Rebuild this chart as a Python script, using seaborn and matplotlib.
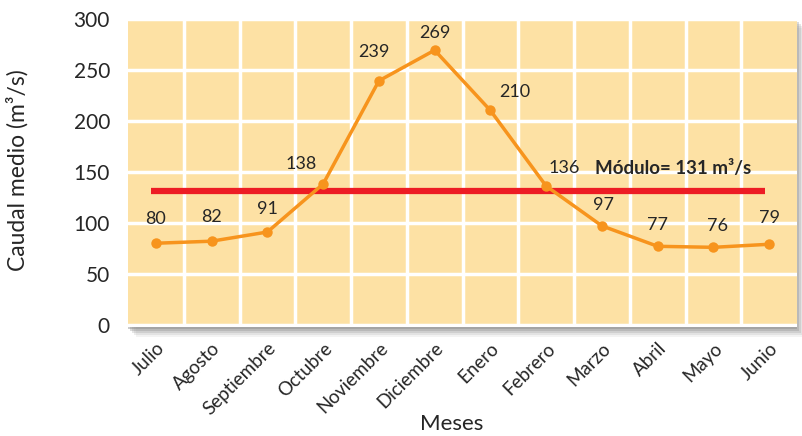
import numpy as np
import pandas as pd
import matplotlib.pyplot as plt
import matplotlib.patches as mpatches
import seaborn as sns

# Data
meses = ["Julio", "Agosto", "Septiembre", "Octubre", "Noviembre", "Diciembre",
         "Enero", "Febrero", "Marzo", "Abril", "Mayo", "Junio"]
caudal = [80, 82, 91, 138, 239, 269, 210, 136, 97, 77, 76, 79]
modulo = 131

df = pd.DataFrame({"Mes": meses, "Caudal": caudal})
df["pos"] = range(len(df))

# label offsets (pixels) relative to each point
offsets = [(0, 24), (0, 24), (0, 23), (-22, 20), (-5, 29), (0, 17),
           (24, 18), (18, 18), (2, 21), (0, 21), (4, 21), (0, 26)]

sns.set_style("white")
plt.rcParams["font.family"] = ["Lato", "DejaVu Sans"]

fig = plt.figure(figsize=(8.02, 4.36), dpi=100)
ax = fig.add_axes([0.1596, 0.25, 0.8342, 0.7087])

# shadow behind plot area
for i, a in enumerate([0.10, 0.15, 0.22, 0.32, 0.45]):
    d = (5 - i) * 2.0
    sh = mpatches.Rectangle((0.1596 - 2 / 802 + d / 802, 0.25 - d / 436), 0.8342, 0.7087,
                            transform=fig.transFigure, facecolor="#8c8c8c",
                            alpha=a, edgecolor="none", zorder=0)
    fig.patches.append(sh)

ax.set_facecolor("#FDE1A4")
ax.set_zorder(1)

ax.set_xlim(-0.5, len(meses) - 0.5)
ax.set_ylim(-2, 300.5)
ax.set_yticks(range(0, 301, 50))
ax.set_xticks(df["pos"])
ax.set_xticks(np.arange(0.5, len(meses) - 0.5, 1), minor=True)
ax.grid(which="major", axis="y", color="white", linewidth=2.5)
ax.grid(which="minor", axis="x", color="white", linewidth=2.5)
ax.set_axisbelow(True)

ax.hlines(modulo, -0.08, 10.93, color="#ED1C24", linewidth=4.5, zorder=2)
ax.text(9.28, 153, "Módulo= 131 m³/s", fontsize=13.5, fontweight="bold",
        ha="center", va="center", zorder=4)

sns.lineplot(data=df, x="pos", y="Caudal", ax=ax, color="#F7941D",
             linewidth=2.5, marker="o", markersize=7.5, markeredgewidth=0,
             zorder=3)

for (x, y), (dx, dy) in zip(zip(df["pos"], df["Caudal"]), offsets):
    ax.annotate(str(y), (x, y), xytext=(dx, dy), textcoords="offset pixels",
                ha="center", va="center", fontsize=13, zorder=4)

ax.set_xticklabels(meses, rotation=45, ha="right", rotation_mode="anchor",
                   fontsize=13.5)
ax.tick_params(axis="x", which="both", length=0, pad=9)
ax.tick_params(axis="y", length=0, labelsize=15, pad=13)
for s in ax.spines.values():
    s.set_visible(False)

ax.set_xlabel("")
ax.set_ylabel("")
fig.text(0.022, 0.61, "Caudal medio (m³/s)", rotation=90, ha="center",
         va="center", fontsize=16.5)
fig.text(0.5636, 0.027, "Meses", ha="center", va="center", fontsize=16)

fig.savefig("out.png", dpi=100)
